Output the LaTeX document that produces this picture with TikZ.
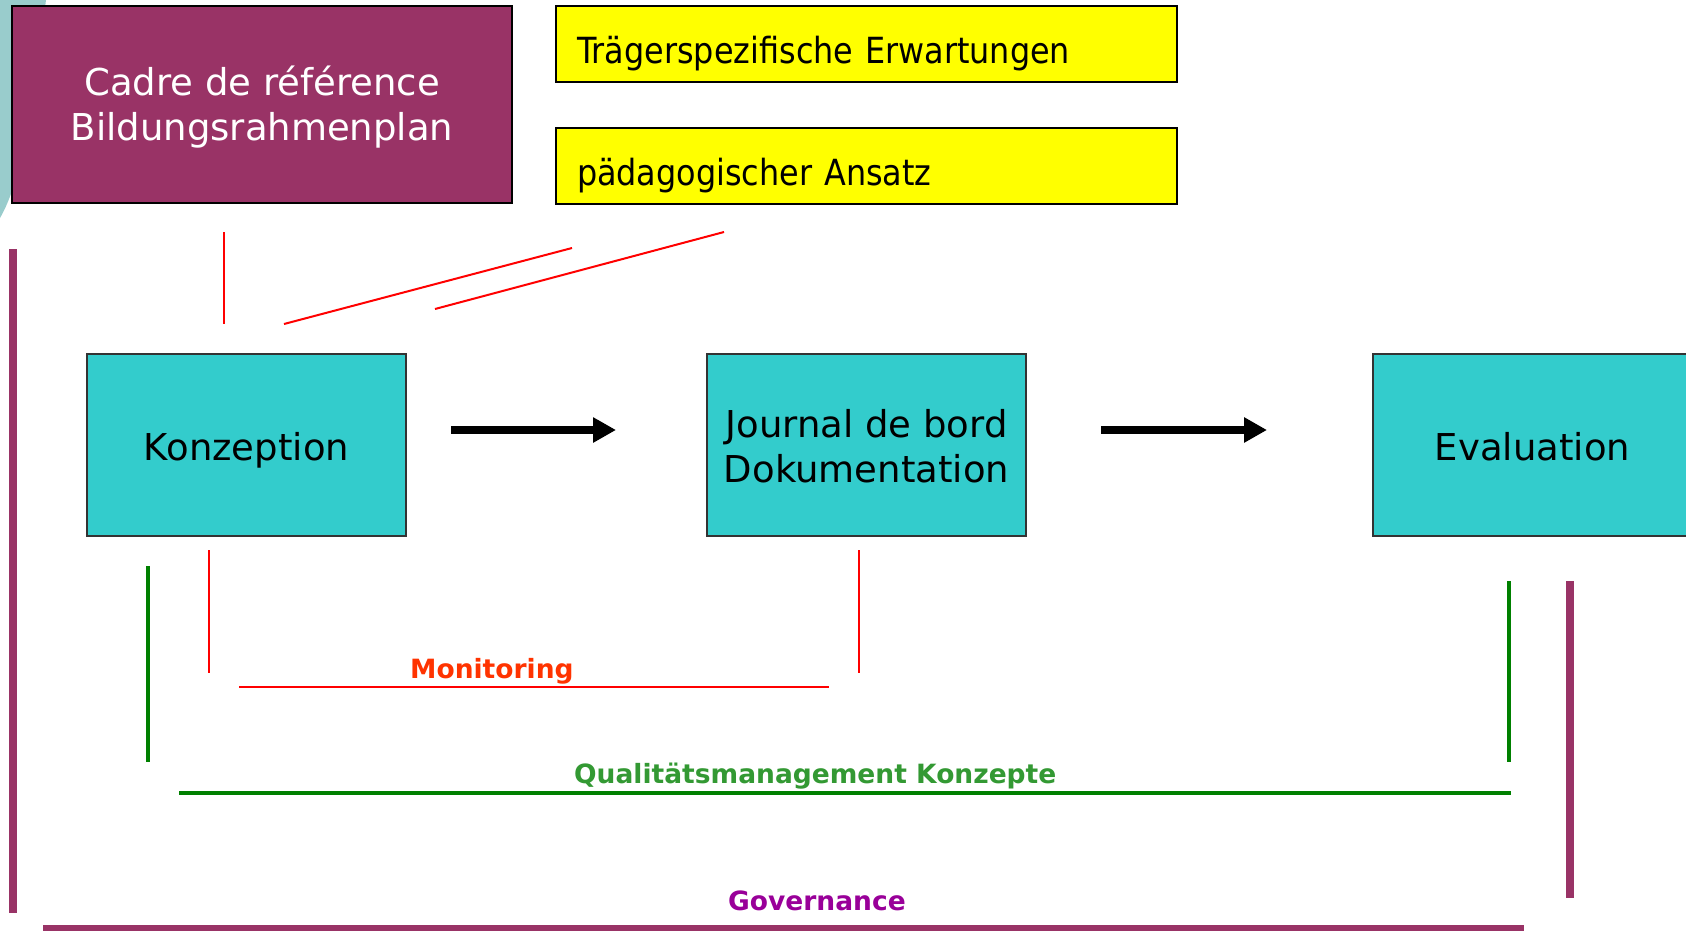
\documentclass[tikz,border=0pt]{standalone}
\usepackage{fontspec}
\setmainfont{DejaVu Sans}
\newfontfamily\condfont[FakeStretch=0.885]{DejaVu Sans}
\usetikzlibrary{arrows.meta}
\definecolor{mag}{RGB}{153,51,102}
\definecolor{cyanbox}{RGB}{51,204,204}
\definecolor{teallight}{RGB}{153,204,204}
\definecolor{yel}{RGB}{255,255,0}
\definecolor{redline}{RGB}{255,0,0}
\definecolor{redtext}{RGB}{255,51,0}
\definecolor{greenline}{RGB}{0,128,0}
\definecolor{greentext}{RGB}{51,153,51}
\definecolor{purpletext}{RGB}{153,0,153}
\tikzset{
  cadrebox/.style={rectangle, fill=mag, draw=black, line width=2pt, minimum width=500pt, minimum height=197pt, inner sep=0pt, text=white, align=center, font=\fontsize{37}{45}\selectfont, text height=71pt, text depth=0pt},
  yelbox/.style={rectangle, fill=yel, draw=black, line width=2pt, minimum height=76pt, text width=579pt, align=left, inner xsep=21pt, inner ysep=0pt, font=\condfont\fontsize{36}{40}\selectfont, text height=39pt, text depth=0pt},
  cybox/.style={rectangle, fill=cyanbox, draw=black!80, line width=2pt, minimum width=319pt, minimum height=182pt, inner sep=0pt, align=center, font=\fontsize{37}{45}\selectfont},
  flowarrow/.style={line width=8pt, -{Triangle[length=23pt, width=24pt]}},
  redl/.style={redline, line width=2pt},
  greenl/.style={greenline, line width=4pt},
  magl/.style={mag, line width=8pt},
  lbl/.style={anchor=base west, inner sep=0pt, font=\bfseries\fontsize{26.5}{30}\selectfont}
}
\begin{document}
\begin{tikzpicture}[x=1pt, y=-1pt]
\clip (0,0) rectangle (1686,930);
\fill[white] (0,0) rectangle (1686,930);
% decorative teal shape
\fill[teallight] (0,0) -- (46,0) .. controls (32,110) and (22,180) .. (0,218) -- cycle;
% top boxes
\node[cadrebox] (cadre) at (262,104.5) {Cadre de référence\\Bildungsrahmenplan};
\node[yelbox] (traeger) at (866.5,44) {Trägerspezifische Erwartungen};
\node[yelbox] (paed) at (866.5,165.5) {pädagogischer Ansatz};
% process boxes
\node[cybox, text height=30pt, text depth=0pt] (konz) at (246.5,445) {Konzeption};
\node[cybox, text height=74pt, text depth=0pt] (journal) at (866.5,445) {Journal de bord\\Dokumentation};
\node[cybox, text height=30pt, text depth=0pt] (eval) at (1532.5,445) {Evaluation};
% arrows
\coordinate (a1s) at (451,430);
\coordinate (a1e) at (616,430);
\coordinate (a2s) at (1101,430);
\coordinate (a2e) at (1267,430);
\draw[flowarrow] (a1s) -- (a1e);
\draw[flowarrow] (a2s) -- (a2e);
% red lines top
\coordinate (r1a) at (224,232); \coordinate (r1b) at (224,324);
\coordinate (r2a) at (284,324); \coordinate (r2b) at (572,248);
\coordinate (r3a) at (435,309); \coordinate (r3b) at (724,232);
\draw[redl] (r1a) -- (r1b);
\draw[redl] (r2a) -- (r2b);
\draw[redl] (r3a) -- (r3b);
% monitoring
\coordinate (m1a) at (209,550); \coordinate (m1b) at (209,673);
\coordinate (m2a) at (859,550); \coordinate (m2b) at (859,673);
\coordinate (m3a) at (239,687); \coordinate (m3b) at (829,687);
\draw[redl] (m1a) -- (m1b);
\draw[redl] (m2a) -- (m2b);
\draw[redl] (m3a) -- (m3b);
\node[lbl, text=redtext] (mon) at (410,678) {Monitoring};
% quality
\coordinate (g1a) at (148,566); \coordinate (g1b) at (148,762);
\coordinate (g2a) at (1509,581); \coordinate (g2b) at (1509,762);
\coordinate (g3a) at (179,793); \coordinate (g3b) at (1511,793);
\draw[greenl] (g1a) -- (g1b);
\draw[greenl] (g2a) -- (g2b);
\draw[greenl] (g3a) -- (g3b);
\node[lbl, text=greentext] (qm) at (574,783) {Qualitätsmanagement Konzepte};
% governance
\coordinate (p1a) at (12.5,249); \coordinate (p1b) at (12.5,913);
\coordinate (p2a) at (1570,581); \coordinate (p2b) at (1570,898);
\coordinate (p3a) at (43,928); \coordinate (p3b) at (1524,928);
\draw[magl] (p1a) -- (p1b);
\draw[magl] (p2a) -- (p2b);
\draw[mag, line width=6pt] (p3a) -- (p3b);
\node[lbl, text=purpletext] (gov) at (728,910) {Governance};
\end{tikzpicture}
\end{document}
